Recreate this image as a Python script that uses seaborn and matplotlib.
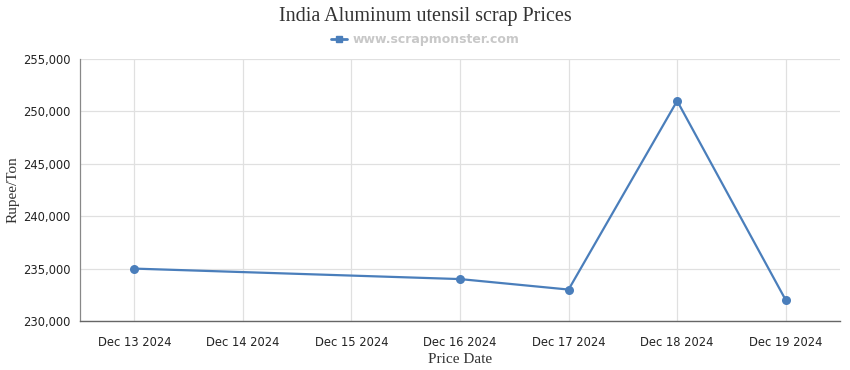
import matplotlib
matplotlib.use("Agg")
import matplotlib.pyplot as plt
import matplotlib.dates as mdates
from matplotlib.lines import Line2D
from matplotlib.ticker import FuncFormatter
import seaborn as sns
import pandas as pd

dates = ["2024-12-13", "2024-12-16", "2024-12-17", "2024-12-18", "2024-12-19"]
prices = [235000, 234000, 233000, 251000, 232000]
tick_dates = ["2024-12-13", "2024-12-14", "2024-12-15", "2024-12-16",
              "2024-12-17", "2024-12-18", "2024-12-19"]
y_ticks = [230000, 235000, 240000, 245000, 250000, 255000]

df = pd.DataFrame({"date": pd.to_datetime(dates), "price": prices})

sns.set_style("white")
color = "#4a7ebb"

fig = plt.figure(figsize=(8.5, 3.7), dpi=100)
ax = fig.add_axes([80/850, 1-321/370, 760/850, (321-59)/370])

sns.lineplot(data=df, x="date", y="price", ax=ax, color=color, marker="o",
             markersize=6.5, markeredgewidth=0, linewidth=1.6)

tks = pd.to_datetime(tick_dates)
ax.set_xticks(tks)
ax.xaxis.set_major_formatter(mdates.DateFormatter("%b %d %Y"))
ax.set_xlim(tks[0] - pd.Timedelta(hours=12), tks[-1] + pd.Timedelta(hours=12))
ax.set_ylim(230000, 255000)
ax.set_yticks(y_ticks)
ax.yaxis.set_major_formatter(FuncFormatter(lambda v, p: f"{int(v):,}"))

ax.grid(True, color="#e0e0e0", linewidth=0.9)
ax.set_axisbelow(True)
for s in ["top", "right"]:
    ax.spines[s].set_visible(False)
ax.spines["left"].set_color("#888888")
ax.spines["left"].set_linewidth(0.9)
ax.spines["bottom"].set_color("#666666")
ax.spines["bottom"].set_linewidth(1.0)
ax.tick_params(axis="both", which="major", direction="out", length=5,
               width=0.8, color="#888888", labelsize=8.3, labelcolor="#222222")
ax.tick_params(axis="x", pad=6)
ax.tick_params(axis="y", pad=2)

ax.set_xlabel("Price Date", family="Liberation Serif", fontsize=11, color="#333333", labelpad=3)
ax.set_ylabel("Rupee/Ton", family="Liberation Serif", fontsize=11, color="#333333", labelpad=2)

fig.text(0.5, 1-17/370, "India Aluminum utensil scrap Prices", ha="center", va="center",
         family="Liberation Serif", fontsize=14.5, color="#333333")

handle = Line2D([], [], color=color, marker="s", markersize=5, linewidth=2)
fig.legend([handle], ["www.scrapmonster.com"], loc="center", bbox_to_anchor=(0.5, 1-40/370),
           frameon=False, handlelength=1.3, handletextpad=0.4,
           prop={"family": "DejaVu Sans", "weight": "bold", "size": 9},
           labelcolor="#c8c8c8")

fig.savefig("out.png", dpi=100)
